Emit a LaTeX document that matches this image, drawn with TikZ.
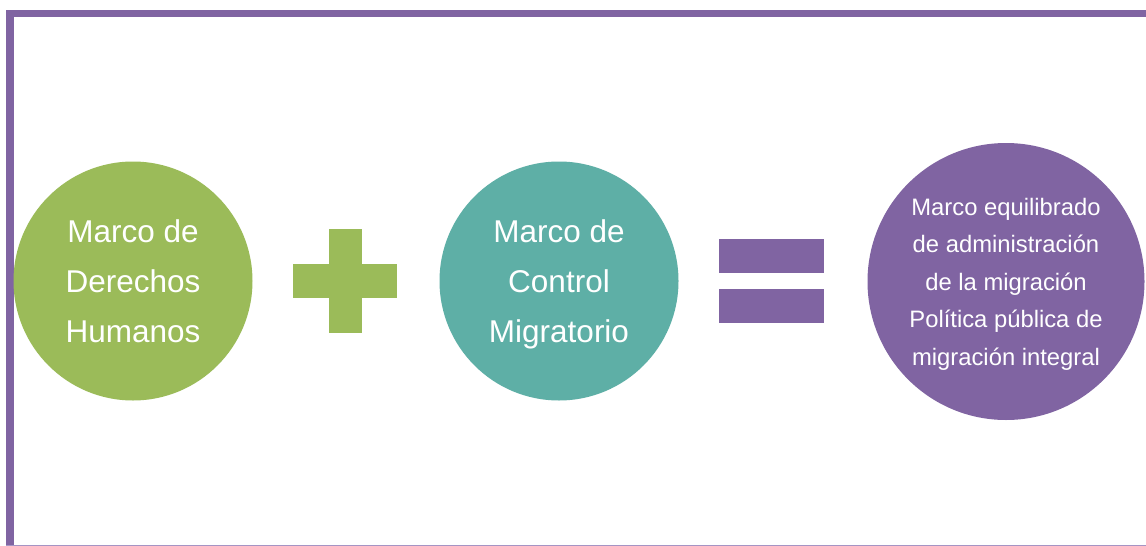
\documentclass[tikz,border=0pt]{standalone}
\usepackage{fontspec}
\setmainfont{Liberation Sans}
\definecolor{pgreen}{HTML}{9BBB59}
\definecolor{pteal}{HTML}{5EAFA6}
\definecolor{ppurple}{HTML}{8064A2}
\definecolor{plight}{HTML}{A594C4}
\begin{document}
\begin{tikzpicture}[x=1pt,y=-1pt,
  bigcirc/.style={circle,inner sep=0pt,text=white,align=center,text depth=0pt},
  bigtext/.style={font=\fontsize{31.5}{50}\selectfont},
  smalltext/.style={font=\fontsize{23.8}{37.5}\selectfont},
  symb/.style={draw=none}]
\useasboundingbox (0,0) rectangle (1146,546);
\fill[white] (0,0) rectangle (1146,546);
% frame
\fill[ppurple] (6,9.5) rectangle (1146,17);
\fill[ppurple] (6,9.5) rectangle (13.5,546);
\fill[plight] (6,544.5) rectangle (1146,546);
% circles
\node[bigcirc,fill=pgreen,minimum size=239pt,bigtext] (hr) at (133,281)
  {Marco de\\Derechos\\Humanos};
\node[bigcirc,fill=pteal,minimum size=239pt,bigtext] (mc) at (559,281)
  {Marco de\\Control\\Migratorio};
\node[bigcirc,fill=ppurple,minimum size=277pt,smalltext] (eq) at (1006,281.5)
  {Marco equilibrado\\de administración\\de la migración\\Política pública de\\migración integral};
% plus sign
\node[symb,fill=pgreen,minimum width=33.3pt,minimum height=104pt,inner sep=0pt] (plusv) at (345.7,281.3) {};
\node[symb,fill=pgreen,minimum width=104.6pt,minimum height=33.4pt,inner sep=0pt] (plush) at (345,281) {};
% equals sign
\node[symb,fill=ppurple,minimum width=105pt,minimum height=33.4pt,inner sep=0pt] (eqtop) at (771.5,256) {};
\node[symb,fill=ppurple,minimum width=105pt,minimum height=33.4pt,inner sep=0pt] (eqbot) at (771.5,306) {};
\end{tikzpicture}
\end{document}
